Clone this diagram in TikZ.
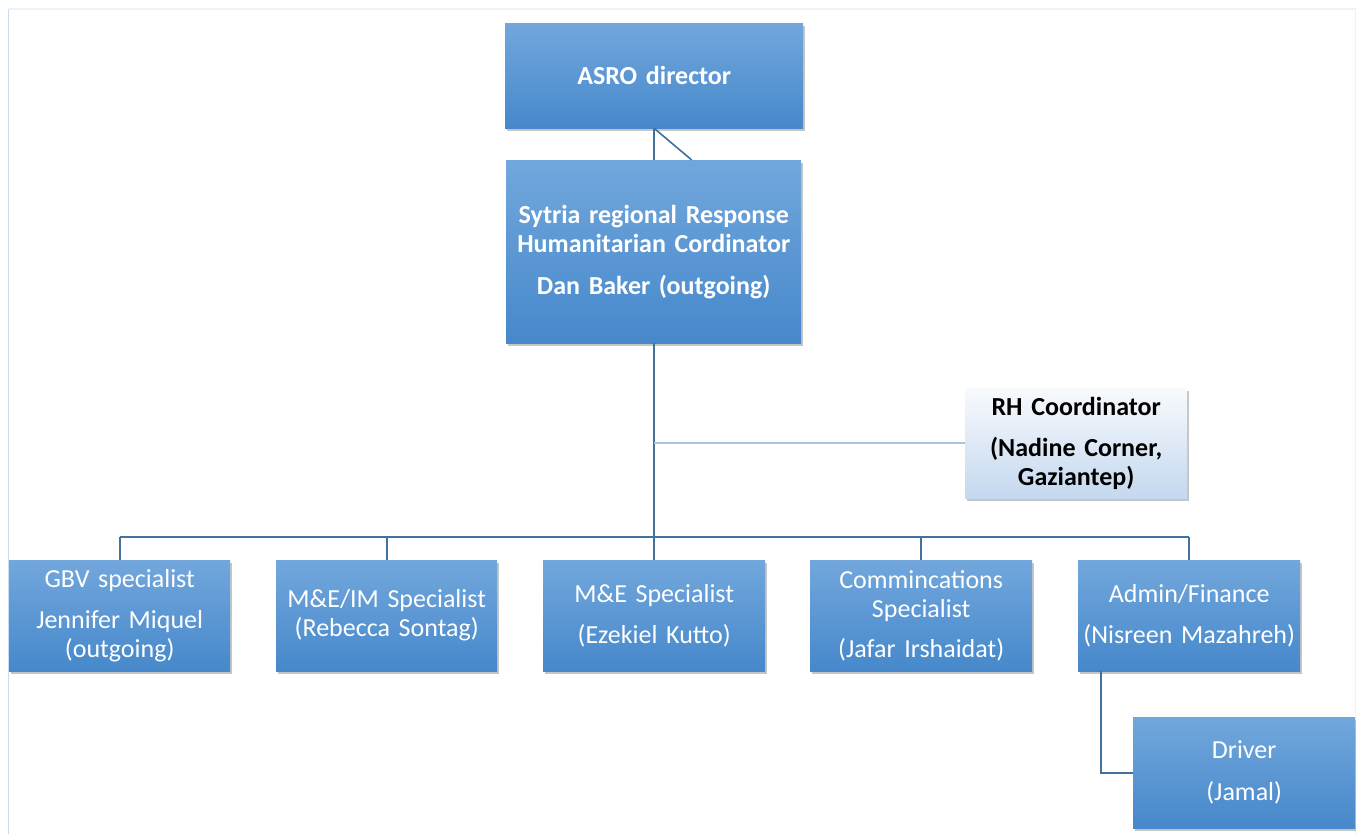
\documentclass[tikz,border=0pt]{standalone}
\usepackage{fontspec}
\setmainfont{Carlito}
\usetikzlibrary{shadows,calc}
\definecolor{bluetop}{RGB}{114,167,220}
\definecolor{bluebot}{RGB}{70,136,203}
\definecolor{lighttop}{RGB}{248,250,253}
\definecolor{lightbot}{RGB}{196,216,239}
\definecolor{linecol}{RGB}{65,113,156}
\definecolor{lightline}{RGB}{168,196,222}
\definecolor{framecol}{RGB}{200,220,242}
\definecolor{framefaint}{RGB}{236,242,249}
\tikzset{
  box/.style={draw=none, top color=bluetop, bottom color=bluebot, text=white,
    align=center, anchor=north west, inner sep=2pt,
    font=\fontsize{26}{29}\selectfont,
    drop shadow={opacity=0.45, shadow xshift=2pt, shadow yshift=-3pt}},
  lightbox/.style={box, top color=lighttop, bottom color=lightbot, text=black},
  conn/.style={draw=linecol, line width=2pt},
  lconn/.style={draw=lightline, line width=1.6pt},
}
\begin{document}
\begin{tikzpicture}[x=1pt,y=-1pt]
\useasboundingbox[fill=white] (0,0) rectangle (1356,834);
% faint frame
\draw[framefaint, line width=1.2pt] (8.5,9) -- (1355.5,9) -- (1355.5,834);
\draw[framecol, line width=1.8pt] (8.5,9) -- (8.5,834);

% nodes
\node[box, minimum width=298pt, minimum height=105pt, text width=288pt] (dir) at (505,23)
  {\bfseries ASRO director};
\node[box, minimum width=295pt, minimum height=183pt, text width=291pt] (cord) at (506,160)
  {\bfseries Sytria regional Response\\\bfseries Humanitarian Cordinator\\[13pt]\bfseries Dan Baker (outgoing)};
\node[lightbox, minimum width=222pt, minimum height=110pt, text width=216pt] (rh) at (965,388)
  {\bfseries RH Coordinator\\[12pt]\bfseries (Nadine Corner,\\\bfseries Gaziantep)};

\node[box, minimum width=221pt, minimum height=111pt, text width=216pt] (gbv) at (9,560)
  {GBV specialist\\[12pt]Jennifer Miquel\\(outgoing)};
\node[box, minimum width=221pt, minimum height=111pt, text width=216pt] (mei) at (276,560)
  {M\&E/IM Specialist\\(Rebecca Sontag)};
\node[box, minimum width=222pt, minimum height=111pt, text width=216pt] (me) at (543,560)
  {M\&E Specialist\\[12pt](Ezekiel Kutto)};
\node[box, minimum width=222pt, minimum height=111pt, text width=216pt] (com) at (810,560)
  {Commincations\\Specialist\\[11pt](Jafar Irshaidat)};
\node[box, minimum width=222pt, minimum height=111pt, text width=216pt] (adm) at (1078,560)
  {Admin/Finance\\[12pt](Nisreen Mazahreh)};
\node[box, minimum width=222pt, minimum height=111pt, text width=216pt] (drv) at (1133,717)
  {Driver\\[13pt](Jamal)};

% connectors
\draw[conn] (dir.south) -- (dir.south |- cord.north);
\draw[conn, line width=1.6pt] (dir.south) -- ($(cord.north)+(38,0)$);
\coordinate (bus) at (cord.south |- 0,537);
\draw[conn] (cord.south) -- (bus);
\draw[lconn] (cord.south |- rh.west) -- (rh.west);
\draw[conn] (gbv.north |- bus) -- (adm.north |- bus);
\foreach \n in {gbv,mei,me,com,adm} \draw[conn] (\n.north) -- (\n.north |- bus);
\draw[conn] ($(adm.south west)+(23,0)$) |- (drv.west);
\end{tikzpicture}
\end{document}
